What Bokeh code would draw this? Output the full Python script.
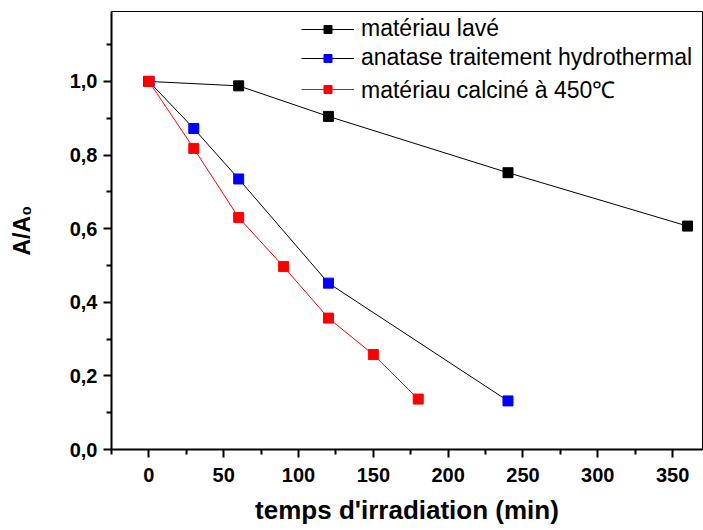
from bokeh.plotting import figure
from bokeh.models import FixedTicker, CustomJSTickFormatter, Legend, LegendItem, Range1d
from bokeh.embed import file_html
from bokeh.resources import INLINE

# Data
t_lave = [0, 60, 120, 240, 360]
a_lave = [1.0, 0.988, 0.905, 0.752, 0.607]

t_anatase = [0, 30, 60, 120, 240]
a_anatase = [1.0, 0.872, 0.735, 0.452, 0.132]

t_calcine = [0, 30, 60, 90, 120, 150, 180]
a_calcine = [1.0, 0.818, 0.630, 0.497, 0.357, 0.258, 0.137]

labels = ["matériau lavé", "anatase traitement hydrothermal", "matériau calciné à 450℃"]
x_ticks = [0, 50, 100, 150, 200, 250, 300, 350]
x_minor = [-25, 25, 75, 125, 175, 225, 275, 325, 375]
y_ticks = [0.0, 0.2, 0.4, 0.6, 0.8, 1.0]
y_minor = [0.1, 0.3, 0.5, 0.7, 0.9, 1.1]

FONT = "Liberation Sans"

p = figure(width=703, height=530, output_backend="svg", toolbar_location=None,
           x_range=Range1d(-25, 370), y_range=Range1d(0, 1.19),
           min_border_left=111, min_border_right=1, min_border_top=11, min_border_bottom=81)

p.grid.visible = False
p.outline_line_color = "black"
p.outline_line_width = 1
p.background_fill_color = "white"

l1 = p.line(t_lave, a_lave, line_color="black", line_width=1)
s1 = p.scatter(t_lave, a_lave, marker="square", size=10, fill_color="black", line_color="black")
l2 = p.line(t_anatase, a_anatase, line_color="black", line_width=1)
s2 = p.scatter(t_anatase, a_anatase, marker="square", size=10, fill_color="#0000FF", line_color="#0000FF")
l3 = p.line(t_calcine, a_calcine, line_color="#FF0000", line_width=1)
s3 = p.scatter(t_calcine, a_calcine, marker="square", size=10, fill_color="#FF0000", line_color="#FF0000")

for ax in (p.xaxis[0], p.yaxis[0]):
    ax.axis_line_width = 2
    ax.major_tick_line_width = 2
    ax.minor_tick_line_width = 2
    ax.major_tick_in = 0
    ax.major_tick_out = 8
    ax.minor_tick_in = 0
    ax.minor_tick_out = 5
    ax.major_label_text_font = FONT
    ax.major_label_text_font_size = "20px"
    ax.major_label_text_font_style = "bold"
    ax.major_label_text_color = "black"
    ax.axis_label_text_font = FONT
    ax.axis_label_text_font_style = "bold"
    ax.axis_label_text_color = "black"

p.xaxis[0].ticker = FixedTicker(ticks=x_ticks, minor_ticks=x_minor)
p.yaxis[0].ticker = FixedTicker(ticks=y_ticks, minor_ticks=y_minor)
p.yaxis[0].formatter = CustomJSTickFormatter(code="return tick.toFixed(1).replace('.', ',');")
p.xaxis[0].major_label_standoff = 10
p.yaxis[0].major_label_standoff = 6

p.xaxis[0].axis_label = "temps d'irradiation (min)"
p.xaxis[0].axis_label_text_font_size = "26px"
p.xaxis[0].axis_label_standoff = 10
p.yaxis[0].axis_label = "A/A₀"
p.yaxis[0].axis_label_text_font_size = "23px"
p.yaxis[0].axis_label_standoff = 32

legend = Legend(items=[LegendItem(label=labels[0], renderers=[l1, s1]),
                       LegendItem(label=labels[1], renderers=[l2, s2]),
                       LegendItem(label=labels[2], renderers=[l3, s3])],
                location=(190, 344))
legend.border_line_color = None
legend.background_fill_alpha = 0
legend.padding = 0
legend.margin = 0
legend.glyph_width = 53
legend.glyph_height = 20
legend.label_height = 20
legend.spacing = 2
legend.label_standoff = 7
legend.label_text_font = FONT
legend.label_text_font_size = "23px"
legend.label_text_color = "black"
p.add_layout(legend, "center")

open("out.html", "w").write(file_html(p, INLINE))
